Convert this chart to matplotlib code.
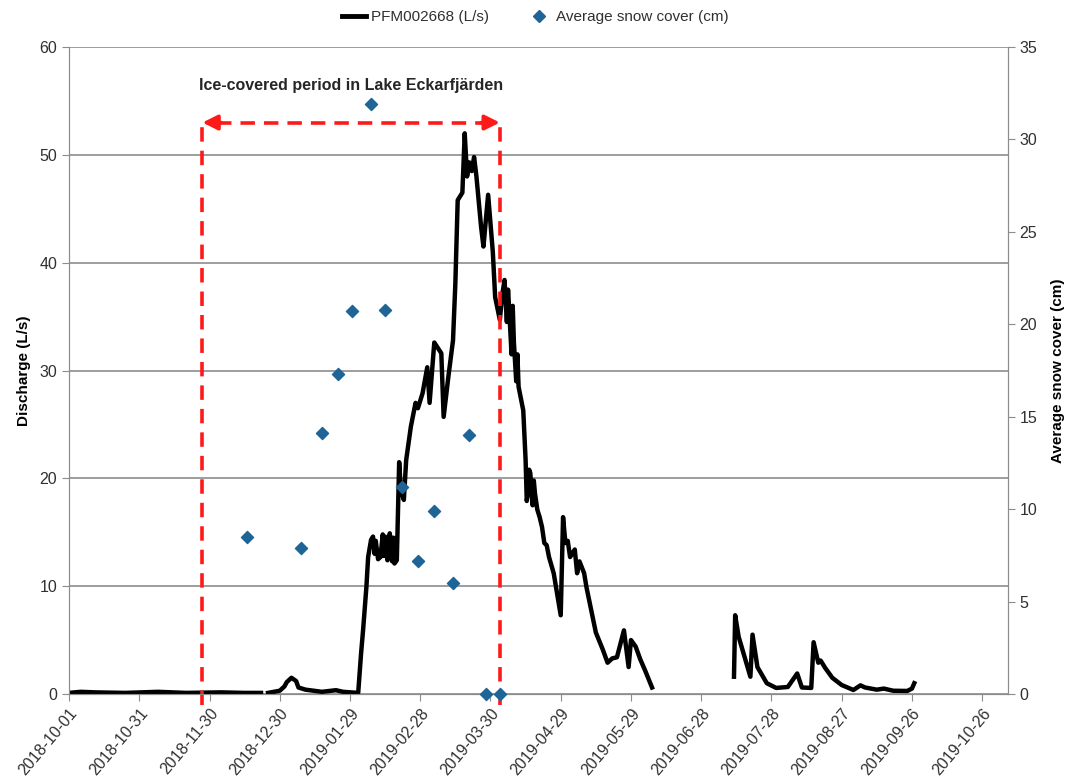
import numpy as np
import pandas as pd
import matplotlib
matplotlib.use("Agg")
import matplotlib.pyplot as plt
import matplotlib.dates as mdates
from matplotlib.lines import Line2D

plt.rcParams['font.family'] = ['Liberation Sans', 'DejaVu Sans']

# Discharge at PFM002668 (L/s); NaN marks gaps in the logger record
q_time = [
    "2018-10-01", "2018-10-06", "2018-10-12", "2018-10-25", "2018-11-08",
    "2018-11-20", "2018-12-05", "2018-12-15", "2018-12-22", "2018-12-23",
    "2018-12-25", "2018-12-30", "2019-01-01", "2019-01-02", "2019-01-04",
    "2019-01-06", "2019-01-07", "2019-01-10", "2019-01-17", "2019-01-23",
    "2019-01-26", "2019-02-01", "2019-02-01 12:00",
    "2019-02-02 18:00", "2019-02-03 14:00", "2019-02-05", "2019-02-05 18:00",
    "2019-02-07", "2019-02-07 20:00", "2019-02-08 12:00", "2019-02-09",
    "2019-02-10", "2019-02-11", "2019-02-12", "2019-02-12 12:00",
    "2019-02-13", "2019-02-14", "2019-02-14 12:00", "2019-02-15",
    "2019-02-16", "2019-02-16 12:00", "2019-02-17", "2019-02-18",
    "2019-02-19", "2019-02-19 18:00", "2019-02-21", "2019-02-22",
    "2019-02-24", "2019-02-26", "2019-02-27", "2019-03-01", "2019-03-03",
    "2019-03-04", "2019-03-06", "2019-03-09", "2019-03-10", "2019-03-12",
    "2019-03-14", "2019-03-15", "2019-03-16", "2019-03-18", "2019-03-19",
    "2019-03-20", "2019-03-21", "2019-03-22", "2019-03-23", "2019-03-24",
    "2019-03-26", "2019-03-27", "2019-03-29", "2019-03-31", "2019-04-01",
    "2019-04-03", "2019-04-04", "2019-04-05", "2019-04-06",
    "2019-04-06 12:00", "2019-04-07", "2019-04-08", "2019-04-08 12:00",
    "2019-04-09", "2019-04-10", "2019-04-10 12:00", "2019-04-11",
    "2019-04-13", "2019-04-14", "2019-04-14 12:00", "2019-04-15",
    "2019-04-15 12:00", "2019-04-16", "2019-04-17", "2019-04-17 12:00",
    "2019-04-18", "2019-04-19", "2019-04-20", "2019-04-21", "2019-04-22",
    "2019-04-23", "2019-04-24", "2019-04-26", "2019-04-29", "2019-04-30",
    "2019-05-01", "2019-05-02", "2019-05-03", "2019-05-05", "2019-05-06",
    "2019-05-07", "2019-05-09", "2019-05-10", "2019-05-12", "2019-05-14",
    "2019-05-17", "2019-05-19", "2019-05-21", "2019-05-23", "2019-05-26",
    "2019-05-28", "2019-05-29", "2019-05-31", "2019-06-02", "2019-06-04",
    "2019-06-07", "2019-06-08",
    "2019-07-12", "2019-07-12 12:00", "2019-07-14", "2019-07-19",
    "2019-07-19 22:00", "2019-07-22", "2019-07-26", "2019-07-30",
    "2019-08-04", "2019-08-08", "2019-08-10", "2019-08-14", "2019-08-15",
    "2019-08-17", "2019-08-18", "2019-08-20", "2019-08-23", "2019-08-27",
    "2019-09-01", "2019-09-04", "2019-09-06", "2019-09-11", "2019-09-14",
    "2019-09-18", "2019-09-24", "2019-09-26", "2019-09-27",
]
q_vals = [
    0.1, 0.2, 0.15, 0.1, 0.2,
    0.1, 0.15, 0.1, 0.1, np.nan,
    0.1, 0.3, 0.7, 1.1, 1.5,
    1.2, 0.6, 0.4, 0.2, 0.35,
    0.2, 0.1, 0.1,
    3.8, 5.9, 9.9, 12.7,
    14.3, 14.6, 13.0, 14.2,
    12.5, 12.7, 14.8, 12.8,
    14.6, 12.4, 14.0, 14.9,
    12.3, 14.5, 12.1, 12.4,
    21.5, 18.9, 18.0, 21.7,
    24.8, 27.0, 26.5, 27.9, 30.3,
    27.0, 32.6, 31.6, 25.7, 29.4,
    32.8, 38.1, 45.8, 46.5, 52.0,
    48.0, 49.3, 48.5, 49.8, 48.0,
    43.3, 41.5, 46.3, 41.0, 36.8,
    34.7, 37.0, 38.4, 34.5,
    37.5, 35.6, 31.5, 36.0,
    32.6, 29.0, 31.5, 28.5,
    26.3, 21.7, 17.9, 18.6,
    20.8, 20.5, 17.5, 19.8,
    18.6, 17.1, 16.4, 15.5, 14.0,
    13.8, 12.7, 11.2, 7.3, 16.4,
    14.0, 14.2, 12.7, 13.4, 11.2,
    12.3, 11.2, 9.9, 7.8, 5.7,
    4.1, 2.9, 3.3, 3.4, 5.9,
    2.5, 5.0, 4.4, 3.2, 2.2,
    0.6, np.nan,
    1.6, 7.3, 5.3, 1.6,
    5.5, 2.5, 1.0, 0.56,
    0.65, 1.9, 0.6, 0.56, 4.8,
    2.9, 3.1, 2.4, 1.5, 0.83,
    0.37, 0.8, 0.6, 0.4, 0.5,
    0.3, 0.28, 0.5, 1.0,
]

# Average snow cover (cm)
snow_dates = ["2018-12-16", "2019-01-08", "2019-01-17", "2019-01-24",
              "2019-01-30", "2019-02-07", "2019-02-13", "2019-02-20",
              "2019-02-27", "2019-03-06", "2019-03-14", "2019-03-21",
              "2019-03-28", "2019-04-03"]
snow_cm = [8.5, 7.9, 14.1, 17.3, 20.7, 31.9, 20.8, 11.2,
           7.2, 9.9, 6.0, 14.0, 0.0, 0.0]

ice_start = "2018-11-27"
ice_end = "2019-04-03"
ice_level = 53

tick_dates = pd.date_range("2018-10-01", "2019-10-26", freq="30D")

grey = '#8c8c8c'
txt = '#303030'
blue = '#1f6497'

fig = plt.figure(figsize=(10.7, 7.78), dpi=100)
ax = fig.add_axes([0.0645, 0.108, 0.8775, 0.8315])
ax2 = ax.twinx()

qt = pd.to_datetime(q_time, format='mixed')
ax.plot(qt, q_vals, color='black', lw=3.2, solid_joinstyle='round', zorder=3)

ax.set_ylim(0, 60)
ax.set_yticks(range(0, 61, 10))
ax.set_xlim(pd.Timestamp("2018-10-01"), pd.Timestamp("2019-11-06"))
ax.set_xticks(tick_dates)
ax.xaxis.set_major_formatter(mdates.DateFormatter('%Y-%m-%d'))
ax.grid(axis='y', color=grey, lw=1.2)
ax.set_axisbelow(True)

ax2.scatter(pd.to_datetime(snow_dates), snow_cm, marker='D', s=38,
            color=blue, zorder=4, clip_on=False)
ax2.set_ylim(0, 35)
ax2.set_yticks(range(0, 36, 5))

for a in (ax, ax2):
    a.spines['top'].set_visible(False)
    for s in ('left', 'right', 'bottom'):
        a.spines[s].set_color(grey)
    a.tick_params(colors=grey, labelcolor=txt, labelsize=11.5, length=5)

for lab in ax.get_xticklabels():
    lab.set_rotation(50)
    lab.set_ha('right')
    lab.set_rotation_mode('anchor')

ax.set_ylabel('Discharge (L/s)', fontsize=11, fontweight='bold', color='black', labelpad=6)
ax2.set_ylabel('Average snow cover (cm)', fontsize=11, fontweight='bold', color='black', labelpad=10)

# ice-covered period: dashed bracket with arrow heads
x0, x1 = pd.Timestamp(ice_start), pd.Timestamp(ice_end)
red = '#ff1a1a'
for xv in (x0, x1):
    ax.plot([xv, xv], [-1, ice_level], color=red, lw=2.6, ls=(0, (4, 2.5)),
            clip_on=False, zorder=5)
ax.plot([x0 + pd.Timedelta(days=6), x1 - pd.Timedelta(days=6)], [ice_level, ice_level],
        color=red, lw=2.6, ls=(0, (4, 2.5)), zorder=5)
for tip, sgn in ((x0, 1), (x1, -1)):
    ax.annotate('', xy=(tip, ice_level), xytext=(tip + sgn * pd.Timedelta(days=8), ice_level),
                arrowprops=dict(arrowstyle='-|>,head_length=0.9,head_width=0.45',
                                color=red, lw=2.6, shrinkA=0, shrinkB=0), zorder=6)
ax.text(x0 + (x1 - x0) / 2, 56.4, 'Ice-covered period in Lake Eckarfjärden',
        ha='center', va='center', fontsize=11.5, fontweight='bold', color='#262626')

handles = [Line2D([], [], color='black', lw=3.5),
           Line2D([], [], color=blue, marker='D', ls='none', markersize=6)]
fig.legend(handles, ['PFM002668 (L/s)', 'Average snow cover (cm)'],
           loc='center', bbox_to_anchor=(0.5, 0.978), ncol=2, frameon=False,
           fontsize=11, handlelength=1.6, handletextpad=0.3, columnspacing=2.5,
           labelcolor=txt)

fig.savefig('out.png', dpi=100)
